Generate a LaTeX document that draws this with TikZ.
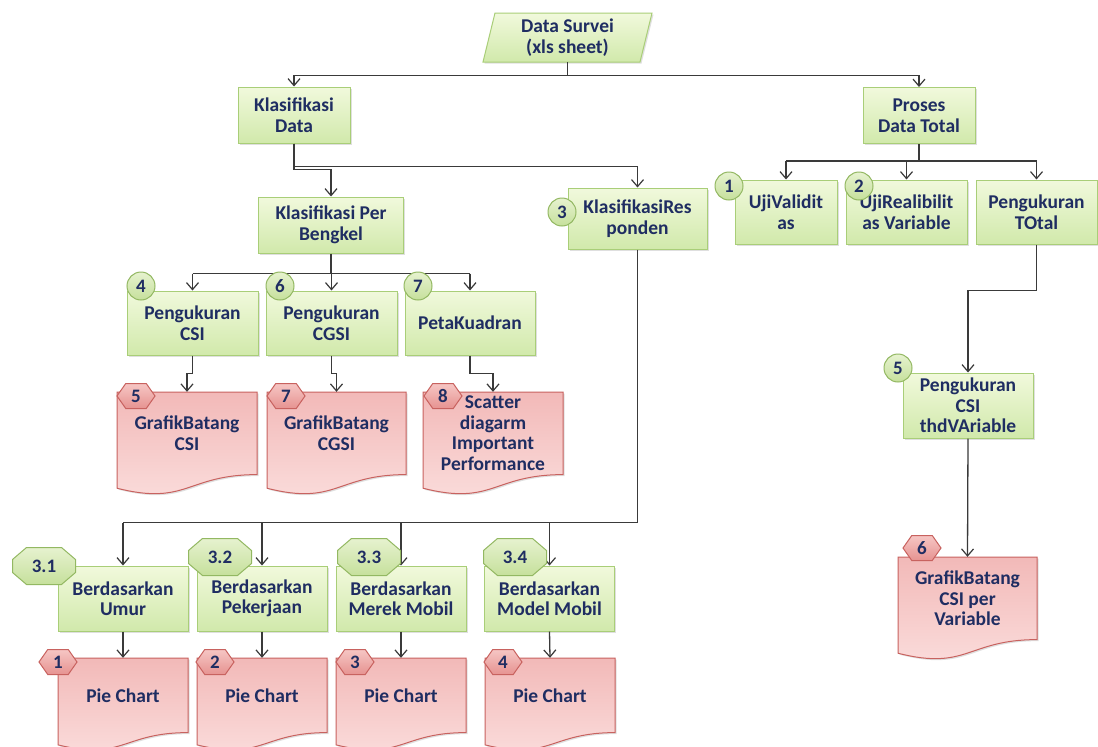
\documentclass[tikz,border=0pt]{standalone}
\usepackage{fontspec}
\setmainfont{Carlito}
\usetikzlibrary{arrows.meta,shapes.symbols,shadows}

\definecolor{navy}{HTML}{1F2D62}
\definecolor{gtop}{HTML}{F1F9DC}
\definecolor{gbot}{HTML}{D1E9AB}
\definecolor{gline}{HTML}{A9CE78}
\definecolor{btop}{HTML}{E6F2CF}
\definecolor{bbot}{HTML}{C6E09C}
\definecolor{bline}{HTML}{93B862}
\definecolor{rtop}{HTML}{F2B9B8}
\definecolor{rbot}{HTML}{FBDEDD}
\definecolor{rline}{HTML}{C8625F}
\definecolor{htop}{HTML}{F6C6C4}
\definecolor{hbot}{HTML}{E69391}
\definecolor{wire}{HTML}{3A3A3A}

\tikzset{
  txt/.style={text=navy, font=\fontsize{19.5}{20.5}\selectfont\bfseries, align=center},
  gbox/.style={txt, rectangle, draw=gline, line width=1pt, top color=gtop, bottom color=gbot,
    inner sep=2pt, drop shadow={shadow xshift=1.5pt, shadow yshift=-1.5pt, opacity=0.25}},
  gpath/.style={draw=gline, line width=1pt, top color=gtop, bottom color=gbot,
    drop shadow={shadow xshift=1.5pt, shadow yshift=-1.5pt, opacity=0.25}},
  docpath/.style={draw=rline, line width=1pt, top color=rtop, bottom color=rbot,
    drop shadow={shadow xshift=1.5pt, shadow yshift=-1.5pt, opacity=0.25}},
  doctext/.style={txt, rectangle, inner sep=0pt},
  badge/.style={text=navy, font=\fontsize{19}{19}\selectfont\bfseries, inner sep=0pt},
  gnum/.style={badge, circle, minimum size=28, draw=bline, line width=1pt, top color=btop, bottom color=bbot},
  tagpath/.style={draw=bline, line width=1pt, top color=btop, bottom color=bbot},
  rnum/.style={badge, signal, signal to=west and east, signal pointer angle=110,
    minimum width=38, minimum height=25, draw=rline, line width=1pt, top color=htop, bottom color=hbot},
  wireline/.style={draw=wire, line width=1.3pt},
  conn/.style={wireline, -{Straight Barb[length=7pt,width=12pt,line width=1.2pt]}},
}

% document symbol with a wavy lower edge: name, left, top, width, height, text
\newcommand\docnode[6]{%
  \path[docpath] (#2,#3) -- ({#2+#4},#3) -- ({#2+#4},{#3+0.802*#5})
    .. controls ({#2+0.5*#4},{#3+0.802*#5}) and ({#2+0.5*#4},{#3+1.107*#5}) .. (#2,{#3+0.934*#5}) -- cycle;
  \node[doctext, minimum width=#4, minimum height={0.802*#5}] (#1) at ({#2+0.5*#4},{#3+0.401*#5}) {#6};
}

% octagonal sub-step tag: name, centre x, centre y, text
\newcommand\octnode[4]{%
  \path[tagpath] ({#2-31.5},{#3-6.5}) -- ({#2-17.5},{#3-18.5}) -- ({#2+17.5},{#3-18.5})
    -- ({#2+31.5},{#3-6.5}) -- ({#2+31.5},{#3+6.5}) -- ({#2+17.5},{#3+18.5})
    -- ({#2-17.5},{#3+18.5}) -- ({#2-31.5},{#3+6.5}) -- cycle;
  \node[badge] (#1) at (#2,#3) {#4};
}

\begin{document}
\begin{tikzpicture}[x=1pt,y=-1pt]
\fill[white] (0,0) rectangle (1098,747);
\useasboundingbox (0,0) rectangle (1098,747);

% source data
\path[gpath] (483,62) -- (495,13) -- (652,13) -- (640,62) -- cycle;
\node[txt, minimum width=145, minimum height=49, inner sep=0pt] (ds) at (567.5,37.5) {Data Survei\\(xls sheet)};

% first level
\node[gbox, minimum width=112, minimum height=56] (kd) at (294,115) {Klasifikasi\\Data};
\node[gbox, minimum width=112, minimum height=56] (pdt) at (919,115.5) {Proses\\Data Total};

% second level
\node[gbox, minimum width=145, minimum height=56] (kpb) at (331,225) {Klasifikasi Per\\Bengkel};
\node[gbox, minimum width=139, minimum height=61] (kr) at (637.5,218.5) {KlasifikasiRes\\ponden};
\node[gbox, minimum width=102, minimum height=64] (uv) at (786,212) {UjiValidit\\as};
\node[gbox, minimum width=121, minimum height=64] (ur) at (906.5,212) {UjiRealibilit\\as Variable};
\node[gbox, minimum width=121, minimum height=64] (pt) at (1036.5,212) {Pengukuran\\TOtal};

% measurements per workshop
\node[gbox, minimum width=131, minimum height=64] (pcsi) at (192.5,323) {Pengukuran\\CSI};
\node[gbox, minimum width=131, minimum height=64] (pcgsi) at (331.5,323) {Pengukuran\\CGSI};
\node[gbox, minimum width=130, minimum height=64] (pk) at (470,323) {PetaKuadran};
\node[gbox, minimum width=130, minimum height=65] (pcv) at (968,405.5) {Pengukuran\\CSI\\thdVAriable};

% respondent classification
\node[gbox, minimum width=130, minimum height=65] (bu) at (123,598.5) {Berdasarkan\\Umur};
\node[gbox, minimum width=130, minimum height=65] (bp) at (262,598.5) {Berdasarkan\\Pekerjaan};
\node[gbox, minimum width=130, minimum height=65] (bme) at (401,598.5) {Berdasarkan\\Merek Mobil};
\node[gbox, minimum width=130, minimum height=65] (bmo) at (549.5,598.5) {Berdasarkan\\Model Mobil};

% outputs
\docnode{gcsi}{117}{392}{140}{103}{GrafikBatang\\CSI}
\docnode{gcgsi}{267}{392}{139}{103}{GrafikBatang\\CGSI}
\docnode{sct}{423}{392}{140}{103}{Scatter\\diagarm\\Important\\Performance}
\docnode{gcv}{898}{557}{139}{103}{GrafikBatang\\CSI per\\Variable}
\docnode{pc1}{58}{658}{130}{93}{Pie Chart}
\docnode{pc2}{197}{658}{130}{93}{Pie Chart}
\docnode{pc3}{336}{658}{130}{93}{Pie Chart}
\docnode{pc4}{485}{658}{130}{93}{Pie Chart}

% connectors: a trunk down to a bus, the bus, then one drop per child
\coordinate (jds) at ([yshift=-13pt]ds.south);
\draw[wireline] (ds.south) -- (jds);
\draw[wireline] (kd.north |- jds) -- (pdt.north |- jds);
\draw[conn] (kd.north |- jds) -- (kd.north);
\draw[conn] (pdt.north |- jds) -- (pdt.north);

\draw[conn] (kd.south) -- ++(0,26) -| (kpb.north);
\draw[conn] (kd.south) -- ++(0,23) -| (kr.north);

\coordinate (jpdt) at ([yshift=-17pt]pdt.south);
\draw[wireline] (pdt.south) -- (jpdt);
\draw[wireline] (uv.north |- jpdt) -- (pt.north |- jpdt);
\draw[conn] (uv.north |- jpdt) -- (uv.north);
\draw[conn] (ur.north |- jpdt) -- (ur.north);
\draw[conn] (pt.north |- jpdt) -- (pt.north);

\coordinate (jkpb) at ([yshift=-20pt]kpb.south);
\draw[wireline] (kpb.south) -- (jkpb);
\draw[wireline] (pcsi.north |- jkpb) -- (pk.north |- jkpb);
\draw[conn] (pcsi.north |- jkpb) -- (pcsi.north);
\draw[conn] (pcgsi.north |- jkpb) -- (pcgsi.north);
\draw[conn] (pk.north |- jkpb) -- (pk.north);

\draw[conn] (pcsi.south) -- ++(0,18) -| (gcsi.north);
\draw[conn] (pcgsi.south) -- ++(0,18) -| (gcgsi.north);
\draw[conn] (pk.south) -- ++(0,18) -| (sct.north);
\draw[conn] (pt.south) -- ++(0,46) -| (pcv.north);
\draw[conn] (pcv.south) -- (gcv.north);

\coordinate (jkr) at ([yshift=-273pt]kr.south);
\draw[wireline] (kr.south) -- (jkr);
\draw[wireline] (bu.north |- jkr) -- (jkr);
\draw[conn] (bu.north |- jkr) -- (bu.north);
\draw[conn] (bp.north |- jkr) -- (bp.north);
\draw[conn] (bme.north |- jkr) -- (bme.north);
\draw[conn] (bmo.north |- jkr) -- (bmo.north);

\draw[conn] (bu.south) -- (pc1.north);
\draw[conn] (bp.south) -- (pc2.north);
\draw[conn] (bme.south) -- (pc3.north);
\draw[conn] (bmo.south) -- (pc4.north);

% step numbers
\node[gnum] (n3) at (562,212) {3};
\node[gnum] (n1) at (729,186) {1};
\node[gnum] (n2) at (859,186) {2};
\node[gnum] (n4) at (141,286) {4};
\node[gnum] (n6) at (280,286) {6};
\node[gnum] (n7) at (418,286) {7};
\node[gnum] (n5) at (898,368) {5};

\octnode{t31}{44}{566}{3.1}
\octnode{t32}{220}{557}{3.2}
\octnode{t33}{369}{557}{3.3}
\octnode{t34}{515}{557}{3.4}

\node[rnum] (h5) at (136,396) {5};
\node[rnum] (h7) at (286,396) {7};
\node[rnum] (h8) at (443,396) {8};
\node[rnum] (h6) at (922,548) {6};
\node[rnum] (h1) at (58,662) {1};
\node[rnum] (h2) at (215,662) {2};
\node[rnum] (h3) at (355,662) {3};
\node[rnum] (h4) at (503,662) {4};
\end{tikzpicture}
\end{document}
